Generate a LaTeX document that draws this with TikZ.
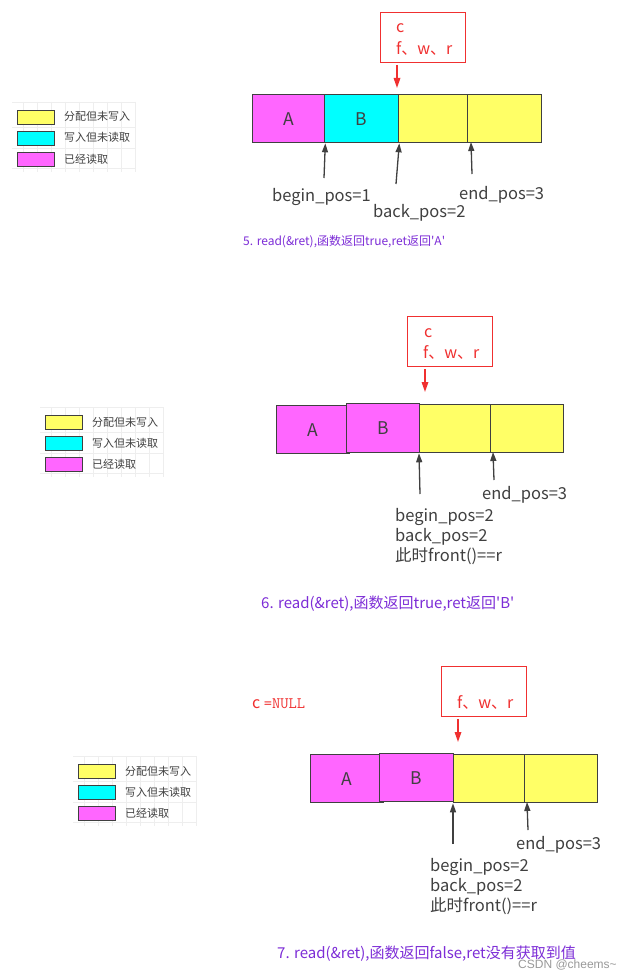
\documentclass[tikz,border=0pt]{standalone}
\usepackage{fontspec}
\setmainfont{Noto Sans CJK SC}
\newfontfamily\nomap{Noto Sans CJK SC}[Ligatures=TeXOff]
\newfontfamily\wmfont{Liberation Sans}
\usetikzlibrary{arrows.meta}
\definecolor{cyel}{HTML}{FFFF66}
\definecolor{ccyan}{HTML}{00FFFF}
\definecolor{cmag}{HTML}{FF66FF}
\definecolor{cedge}{HTML}{404040}
\definecolor{cred}{HTML}{F03030}
\definecolor{cpurple}{RGB}{125,45,215}
\definecolor{ctext}{HTML}{404040}
\definecolor{cgrid}{HTML}{EEEEEE}
\newcommand{\sq}{{\nomap '}}
\tikzset{
  cellbox/.style={draw=cedge, line width=1.3pt, minimum height=48pt, inner sep=0pt, anchor=north west, text=ctext, font=\fontsize{17.5}{20}\selectfont},
  legbox/.style={draw=cedge, line width=1pt, minimum width=37pt, minimum height=14pt, inner sep=0pt, anchor=north west},
  legtxt/.style={anchor=base west, inner sep=0pt, text=ctext, font=\fontsize{11}{13}\selectfont},
  gridln/.style={draw=cgrid, line width=0.6pt},
  ptr/.style={draw=cedge, line width=1.3pt, -{Triangle[length=9pt,width=6pt]}},
  redptr/.style={draw=cred, line width=1.6pt, -{Triangle[length=10pt,width=6.5pt]}},
  redbox/.style={draw=cred, line width=1pt, minimum width=85pt, minimum height=50pt, inner sep=0pt, anchor=north west},
  redtxt/.style={anchor=base west, inner sep=0pt, text=cred, font=\fontsize{16}{19}\selectfont},
  lbl/.style={anchor=base west, inner sep=0pt, text=ctext, font=\fontsize{16.5}{20}\selectfont},
  capsmall/.style={anchor=base west, inner sep=0pt, text=cpurple, font=\fontsize{12}{14}\selectfont},
  capbig/.style={anchor=base west, inner sep=0pt, text=cpurple, font=\fontsize{15}{18}\selectfont},
  legendpic/.pic={
    \foreach \k in {0,...,8} \draw[gridln] (6+14*\k,-8) -- (6+14*\k,62);
    \foreach \h in {-8,17,38,58} \draw[gridln] (-5,\h) -- (119,\h);
    \node[legbox, fill=cyel] (-y) at (0,0) {};
    \node[legbox, fill=ccyan] (-c) at (0,21) {};
    \node[legbox, fill=cmag] (-m) at (0,42) {};
    \node[legtxt] (-ty) at (47,11) {分配但未写入};
    \node[legtxt] (-tc) at (47,32) {写入但未读取};
    \node[legtxt] (-tm) at (47,53) {已经读取};
  }
}
\begin{document}
\begin{tikzpicture}[x=1pt,y=-1pt]
\useasboundingbox[fill=white] (0,0) rectangle (634,979);

% ---------- panel 1 ----------
\pic (lg1) at (17,110) {legendpic};
\node[redbox] (rb1) at (380,12) {};
\node[redtxt] (rc1) at (396,33) {c};
\node[redtxt] (rf1) at (396,55) {f、w、r};
\coordinate (r1s) at (397,65);
\coordinate (r1e) at (397,88);
\draw[redptr] (r1s) -- (r1e);
\node[cellbox, fill=cmag, minimum width=72pt] (a1) at (252,94) {A};
\node[cellbox, fill=ccyan, minimum width=74pt] (b1) at (324,94) {B};
\node[cellbox, fill=cyel, minimum width=69pt] (y11) at (398,94) {};
\node[cellbox, fill=cyel, minimum width=74pt] (y12) at (467,94) {};
\coordinate (p1s1) at (324,178);
\coordinate (p1s2) at (396,184);
\coordinate (p1s3) at (472,174);
\coordinate (p1e3) at (471,142);
\draw[ptr] (p1s1) -- (a1.south east);
\draw[ptr] (p1s2) -- (b1.south east);
\draw[ptr] (p1s3) -- (p1e3);
\node[lbl] (l1b) at (272,201) {begin\_pos=1};
\node[lbl] (l1k) at (373,217.5) {back\_pos=2};
\node[lbl] (l1e) at (459,199.5) {end\_pos=3};
\node[capsmall] (cap1) at (243,245) {5. read(\&ret),函数返回true,ret返回\sq A\sq};

% ---------- panel 2 ----------
\pic (lg2) at (45,415) {legendpic};
\node[redbox] (rb2) at (407,316) {};
\node[redtxt] (rc2) at (424,337) {c};
\node[redtxt] (rf2) at (423,358) {f、w、r};
\coordinate (r2s) at (425,369);
\coordinate (r2e) at (425,392);
\draw[redptr] (r2s) -- (r2e);
\node[cellbox, fill=cmag, minimum width=73pt] (a2) at (276,405) {A};
\node[cellbox, fill=cmag, minimum width=73pt, minimum height=49pt] (b2) at (346,403) {B};
\node[cellbox, fill=cyel, minimum width=71pt] (y21) at (419,404) {};
\node[cellbox, fill=cyel, minimum width=73pt] (y22) at (490,404) {};
\coordinate (p2s1) at (420,494);
\coordinate (p2s2) at (494,480);
\coordinate (p2e2) at (493,452);
\draw[ptr] (p2s1) -- (y21.south west);
\draw[ptr] (p2s2) -- (p2e2);
\node[lbl] (l2e) at (482,499) {end\_pos=3};
\node[lbl] (l2b) at (395,521) {begin\_pos=2};
\node[lbl] (l2k) at (395,541) {back\_pos=2};
\node[lbl] (l2f) at (395,561) {此时front()==r};
\node[capbig] (cap2) at (261,608) {6. read(\&ret),函数返回true,ret返回\sq B\sq};

% ---------- panel 3 ----------
\pic (lg3) at (78,764) {legendpic};
\node[redtxt] (cnull) at (252,708) {c {\ttfamily =NULL}};
\node[redbox] (rb3) at (441,666) {};
\node[redtxt] (rf3) at (457,708) {f、w、r};
\coordinate (r3s) at (458,719);
\coordinate (r3e) at (458,742);
\draw[redptr] (r3s) -- (r3e);
\node[cellbox, fill=cmag, minimum width=73pt] (a3) at (310,754) {A};
\node[cellbox, fill=cmag, minimum width=74pt] (b3) at (379,753) {B};
\node[cellbox, fill=cyel, minimum width=71pt] (y31) at (453,754) {};
\node[cellbox, fill=cyel, minimum width=73pt] (y32) at (524,754) {};
\coordinate (p3s1) at (453,844);
\coordinate (p3s2) at (528,830);
\coordinate (p3e2) at (527,802);
\draw[ptr] (p3s1) -- (y31.south west);
\draw[ptr] (p3s2) -- (p3e2);
\node[lbl] (l3e) at (516,849) {end\_pos=3};
\node[lbl] (l3b) at (430,871) {begin\_pos=2};
\node[lbl] (l3k) at (430,891) {back\_pos=2};
\node[lbl] (l3f) at (430,911) {此时front()==r};
\node[capbig] (cap3) at (277,958) {7. read(\&ret),函数返回false,ret没有获取到值};
\node[anchor=base west, inner sep=0pt, text=black!40, font=\wmfont\fontsize{12}{14}\selectfont] (wm) at (518,968) {CSDN @cheems\textasciitilde};
\end{tikzpicture}
\end{document}
